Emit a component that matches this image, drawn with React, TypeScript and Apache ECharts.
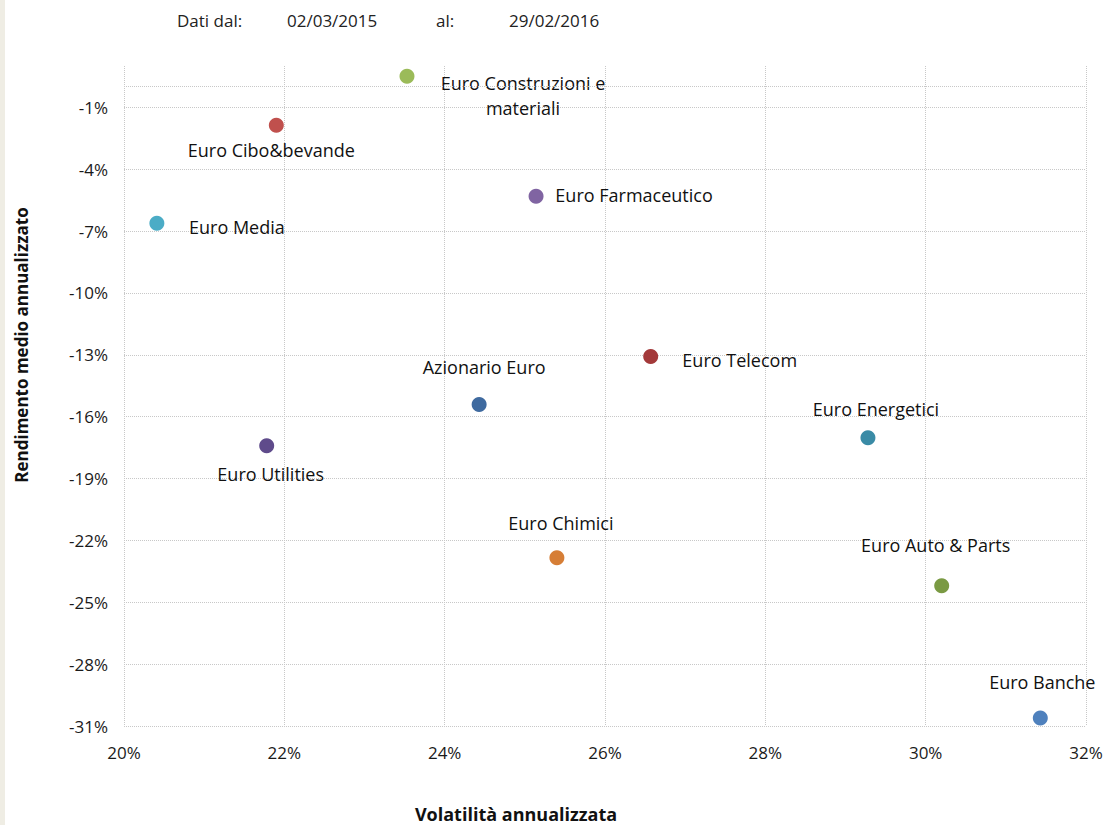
import React, { useEffect, useRef } from "react";
import * as echarts from "echarts";

const names = [
  "Euro Construzioni e\nmateriali",
  "Euro Cibo&bevande",
  "Euro Media",
  "Euro Farmaceutico",
  "Euro Telecom",
  "Azionario Euro",
  "Euro Energetici",
  "Euro Utilities",
  "Euro Chimici",
  "Euro Auto & Parts",
  "Euro Banche",
];
const volatility = [23.53, 21.9, 20.41, 25.14, 26.57, 24.43, 29.28, 21.78, 25.4, 30.2, 31.43];
const returns = [0.5, -1.87, -6.63, -5.32, -13.08, -15.41, -17.02, -17.41, -22.84, -24.2, -30.61];

const colors = [
  "#9BBB59", "#C0504D", "#4BACC6", "#8064A2", "#A3393A", "#3F6A9F",
  "#3A8BA6", "#5F4B8B", "#D67E36", "#7A9A43", "#4F81BD",
];
const labelOffsets: [number, number][] = [
  [116, 19], [-5, 25], [80, 4], [98, -1], [89, 4], [5, -37],
  [8, -29], [4, 28], [4, -35], [-6, -41], [2, -36],
];

const xMin = 20, xMax = 32, xStep = 2;
const yMin = -31, yMax = 1, yStep = 3;
const topLine = 0;

const FONT = "'Open Sans', Lato, sans-serif";
const GRID = "#c8c8c8";

export default function App() {
  const ref = useRef<HTMLDivElement>(null);
  useEffect(() => {
    if (!ref.current) return;
    const chart = echarts.init(ref.current, null, { renderer: "svg" });
    const nLines = Math.floor((yMax - yMin) / yStep) + 2;
    const splitColors = Array.from({ length: nLines }, (_, i) => (i === nLines - 1 ? "rgba(0,0,0,0)" : GRID));
    const headStyle = { fontSize: 17, fill: "#222", fontFamily: FONT };
    chart.setOption({
      animation: false,
      backgroundColor: "#fff",
      textStyle: { fontFamily: FONT },
      grid: { left: 124, right: 21, top: 66, bottom: 99 },
      xAxis: {
        type: "value",
        min: xMin,
        max: xMax,
        interval: xStep,
        axisLine: { show: false },
        axisTick: { show: false },
        axisLabel: { formatter: (v: number) => v + "%", color: "#1a1a1a", fontSize: 17, margin: 18, fontFamily: FONT },
        splitLine: { show: true, lineStyle: { color: GRID, type: "dotted", width: 1 } },
      },
      yAxis: {
        type: "value",
        min: yMin,
        max: yMax,
        interval: yStep,
        axisLine: { show: false },
        axisTick: { show: false },
        axisLabel: {
          formatter: (v: number) => (v > -1 ? "" : v + "%"),
          color: "#1a1a1a",
          fontSize: 17,
          margin: 16,
          fontFamily: FONT,
        },
        splitLine: { show: true, lineStyle: { color: splitColors, type: "dotted", width: 1 } },
      },
      graphic: [
        { type: "text", left: 177, top: 12, style: { text: "Dati dal:", ...headStyle } },
        { type: "text", left: 287, top: 12, style: { text: "02/03/2015", ...headStyle } },
        { type: "text", left: 436, top: 12, style: { text: "al:", ...headStyle } },
        { type: "text", left: 509, top: 12, style: { text: "29/02/2016", ...headStyle } },
        {
          type: "text",
          x: 516,
          y: 814,
          style: {
            text: "Volatilità annualizzata",
            fontSize: 18,
            fontWeight: "bold",
            fill: "#111",
            align: "center",
            verticalAlign: "middle",
            fontFamily: FONT,
          },
        },
        {
          type: "text",
          x: 21,
          y: 345,
          rotation: Math.PI / 2,
          style: {
            text: "Rendimento medio annualizzato",
            fontSize: 17,
            fontWeight: "bold",
            fill: "#111",
            align: "center",
            verticalAlign: "middle",
            fontFamily: FONT,
          },
        },
      ],
      series: [
        {
          type: "scatter",
          symbolSize: 15,
          data: names.map((n, i) => ({
            value: [volatility[i], returns[i]],
            name: n,
            itemStyle: { color: colors[i], opacity: 1 },
            label: {
              show: true,
              formatter: n,
              position: "inside",
              offset: labelOffsets[i],
              align: "center",
              verticalAlign: "middle",
              color: "#111",
              fontSize: 18,
              lineHeight: 25,
              fontFamily: FONT,
            },
          })),
          markLine: {
            silent: true,
            symbol: "none",
            label: { show: false },
            lineStyle: { color: GRID, type: "dotted", width: 1 },
            data: [{ yAxis: topLine }],
          },
        },
      ],
    });
    return () => chart.dispose();
  }, []);
  return (
    <div style={{ position: "absolute", left: 0, top: 0, width: 1107, height: 825, background: "#fff" }}>
      <div style={{ position: "absolute", left: 0, top: 0, width: 5, height: 825, background: "#EFEDE4", zIndex: 2 }} />
      <div ref={ref} style={{ width: 1107, height: 825 }} />
    </div>
  );
}
